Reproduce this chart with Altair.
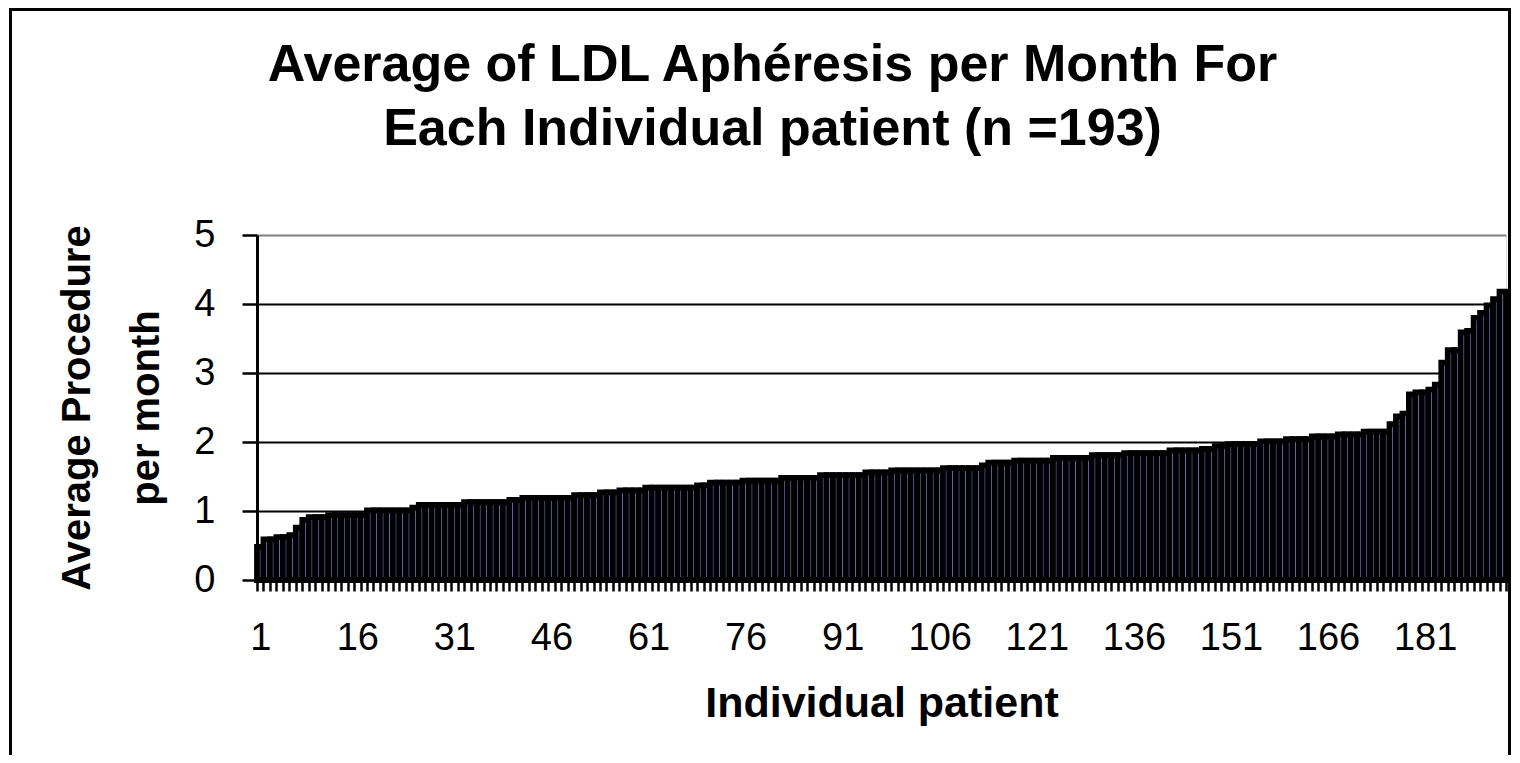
import altair as alt
import pandas as pd

# ---- data ----
patients = list(range(1, 194))
avg_procedures = [
    0.48, 0.59, 0.59, 0.62, 0.62, 0.65, 0.76, 0.87, 0.91, 0.91,
    0.91, 0.94, 0.94, 0.94, 0.94, 0.94, 0.94, 1.01, 1.01, 1.01,
    1.01, 1.01, 1.01, 1.01, 1.05, 1.09, 1.09, 1.09, 1.09, 1.09,
    1.09, 1.09, 1.13, 1.13, 1.13, 1.13, 1.13, 1.13, 1.13, 1.16,
    1.16, 1.19, 1.19, 1.19, 1.19, 1.19, 1.19, 1.19, 1.19, 1.23,
    1.23, 1.23, 1.23, 1.27, 1.27, 1.27, 1.30, 1.30, 1.30, 1.30,
    1.34, 1.34, 1.34, 1.34, 1.34, 1.34, 1.34, 1.34, 1.37, 1.37,
    1.41, 1.41, 1.41, 1.41, 1.41, 1.44, 1.44, 1.44, 1.44, 1.44,
    1.44, 1.48, 1.48, 1.48, 1.48, 1.48, 1.48, 1.52, 1.52, 1.52,
    1.52, 1.52, 1.52, 1.52, 1.56, 1.56, 1.56, 1.56, 1.59, 1.59,
    1.59, 1.59, 1.59, 1.59, 1.59, 1.59, 1.62, 1.62, 1.62, 1.62,
    1.62, 1.62, 1.66, 1.70, 1.70, 1.70, 1.70, 1.73, 1.73, 1.73,
    1.73, 1.73, 1.73, 1.77, 1.77, 1.77, 1.77, 1.77, 1.77, 1.81,
    1.81, 1.81, 1.81, 1.81, 1.84, 1.84, 1.84, 1.84, 1.84, 1.84,
    1.84, 1.88, 1.88, 1.88, 1.88, 1.88, 1.90, 1.90, 1.94, 1.94,
    1.97, 1.97, 1.97, 1.97, 1.97, 2.01, 2.01, 2.01, 2.01, 2.04,
    2.04, 2.04, 2.04, 2.08, 2.08, 2.08, 2.08, 2.11, 2.11, 2.11,
    2.11, 2.15, 2.15, 2.15, 2.15, 2.26, 2.37, 2.41, 2.69, 2.72,
    2.72, 2.76, 2.83, 3.15, 3.33, 3.33, 3.59, 3.61, 3.80, 3.87,
    3.98, 4.07, 4.18,
]
y_ticks = [0, 1, 2, 3, 4, 5]
title_lines = ["Average of LDL Aphéresis per Month For",
               "Each Individual patient (n =193)"]
x_title = "Individual patient"
y_title = ["Average Procedure", "per month"]

df = pd.DataFrame({"patient": patients, "value": avg_procedures})

FONT = "Liberation Sans"
W, H = 1249, 345

bars = alt.Chart(df).mark_bar(
    fill="#9999FF", stroke="black", strokeWidth=5.8
).encode(
    x=alt.X(
        "patient:O",
        scale=alt.Scale(paddingInner=0, paddingOuter=0),
        axis=alt.Axis(
            title=x_title,
            labelExpr="(datum.value - 1) % 15 === 0 ? datum.label : ''",
            labelAngle=0,
            labelOverlap=False,
            labelFont=FONT,
            labelFontSize=38,
            labelColor="black",
            labelPadding=28,
            labelBaseline="top",
            tickBand="extent",
            tickSize=11,
            tickWidth=2.5,
            tickColor="black",
            domainColor="black",
            domainWidth=3,
            titleFont=FONT,
            titleFontSize=43,
            titleFontWeight="bold",
            titleColor="black",
            titleBaseline="alphabetic",
            titleY=136,
        ),
    ),
    y=alt.Y(
        "value:Q",
        scale=alt.Scale(domain=[0, 5], nice=False),
        axis=alt.Axis(
            title=y_title,
            values=y_ticks,
            grid=True,
            gridColor={"condition": {"test": "datum.value === 5", "value": "#808080"},
                       "value": "black"},
            gridWidth=2,
            labelFont=FONT,
            labelFontSize=38,
            labelColor="black",
            labelPadding=27,
            tickSize=15,
            tickWidth=2.5,
            tickColor="black",
            domainColor="black",
            domainWidth=3,
            titleFont=FONT,
            titleFontSize=40,
            titleFontWeight="bold",
            titleColor="black",
            titleAngle=270,
            titleAlign="center",
            titleBaseline="middle",
            titleLineHeight=69,
            titleX=-180,
            titleY=H / 2,
        ),
    ),
)

frame = alt.Chart(alt.Data(values=[{"f": 1}])).mark_rect(
    fill="transparent", stroke="black", strokeWidth=3
).encode(
    x=alt.value(-246.5),
    x2=alt.value(W + 3.5),
    y=alt.value(-225.5),
    y2=alt.value(H + 220),
)

chart = alt.layer(frame, bars).properties(
    width=W,
    height=H,
    padding={"left": 249, "top": 227, "right": 6, "bottom": 175},
    autosize=alt.AutoSizeParams(type="none"),
    title=alt.Title(
        title_lines,
        font=FONT,
        fontSize=52,
        fontWeight="bold",
        color="black",
        anchor="middle",
        frame="group",
        dx=-109,
        lineHeight=64,
        offset=-148,
    ),
).configure_view(
    fill="#C0C0C0", stroke="#808080", strokeWidth=2
).configure(background="white")

chart.save("out.html", embed_options={"renderer": "svg", "actions": False})
